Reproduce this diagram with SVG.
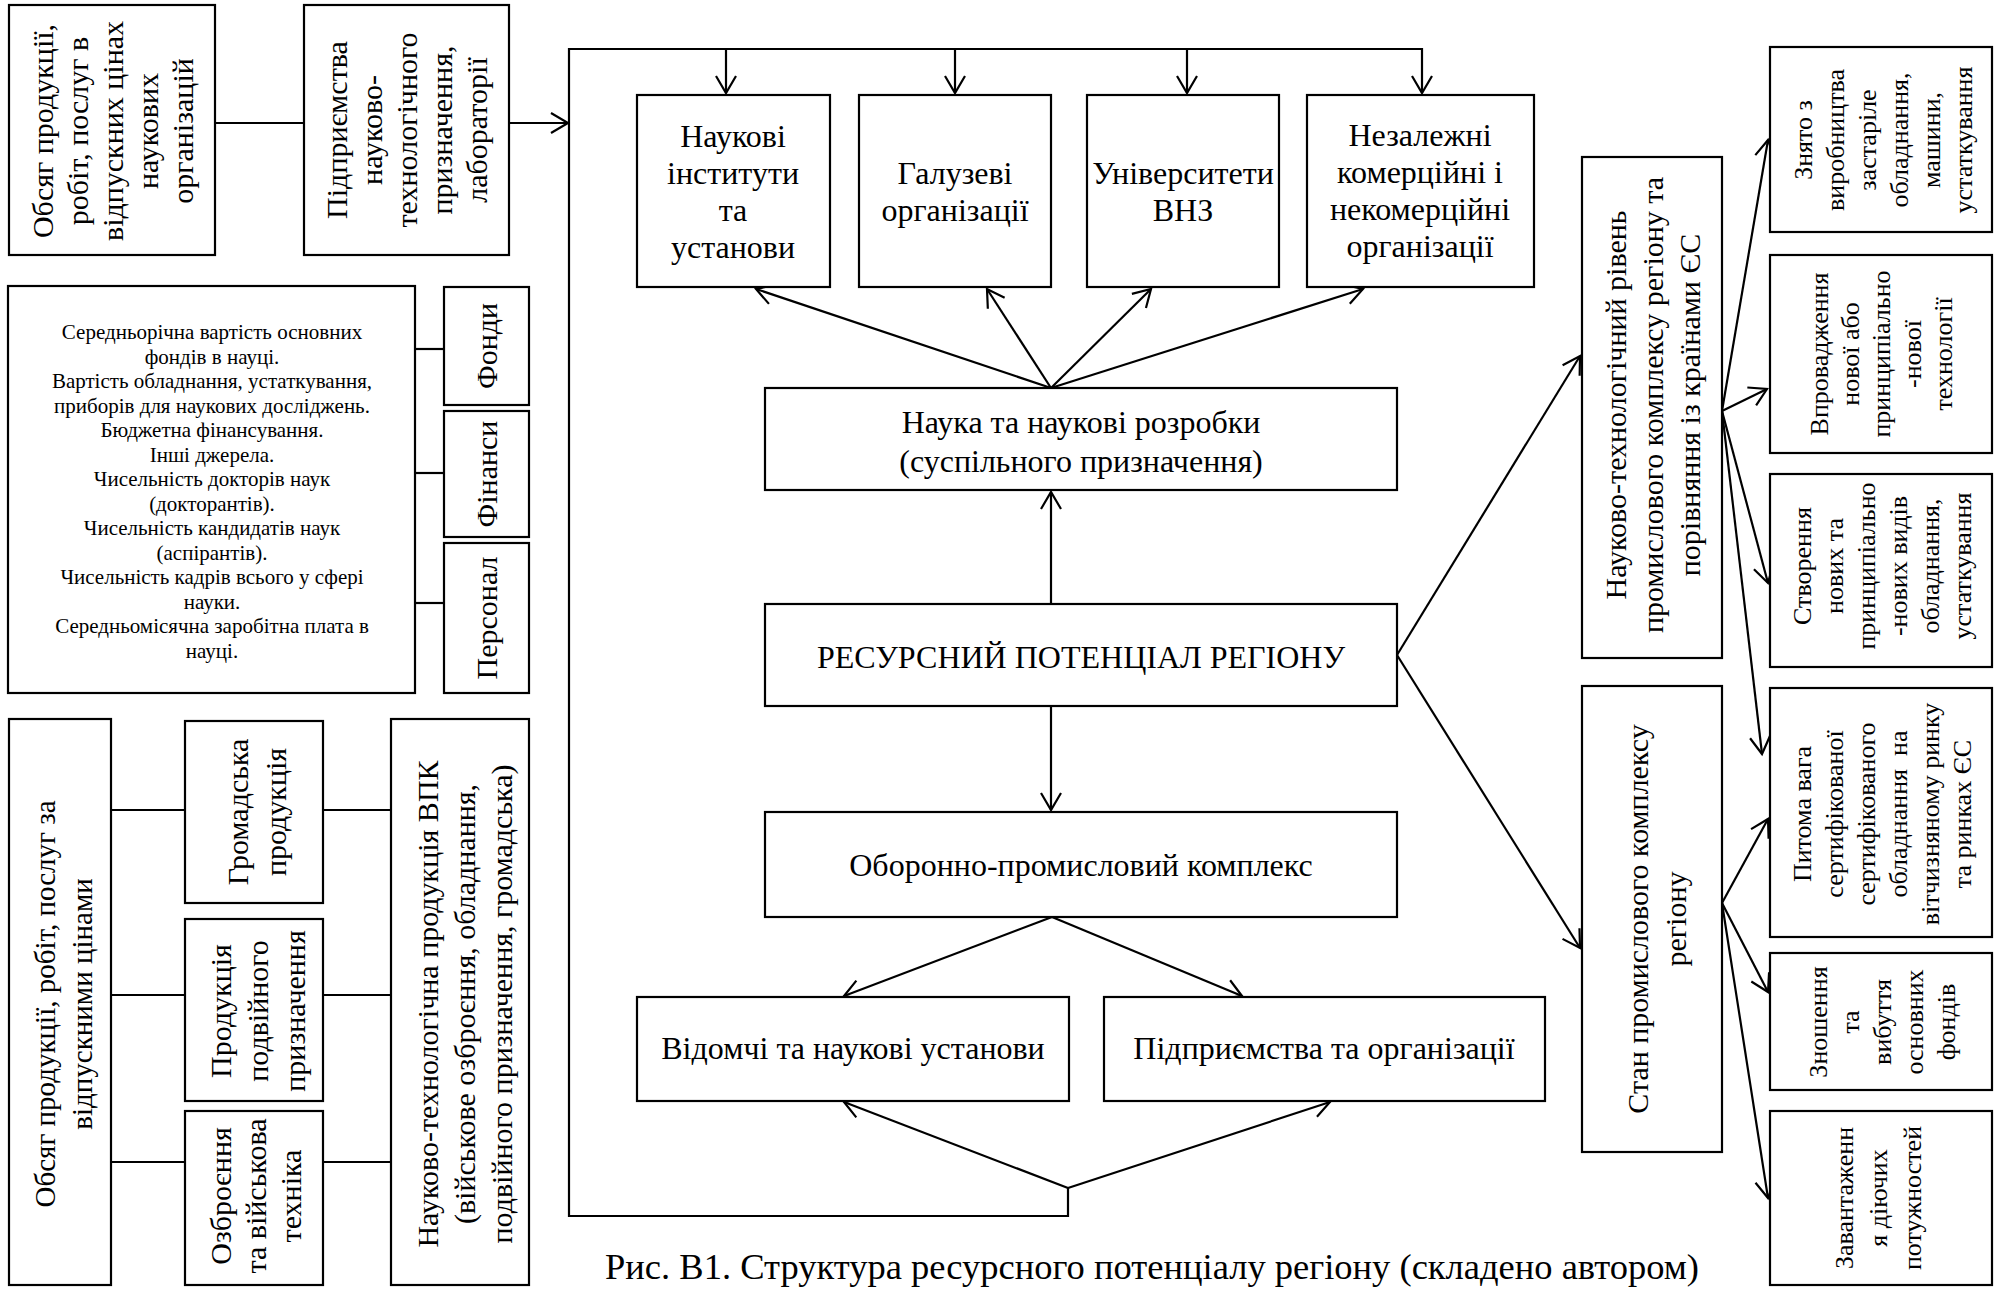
<svg xmlns="http://www.w3.org/2000/svg" width="1999" height="1289" viewBox="0 0 1999 1289">
<style>
.b{fill:#fff;stroke:#000;stroke-width:2.2}
.c{fill:none;stroke:#000;stroke-width:2.2}
.a{fill:none;stroke:#000;stroke-width:2.2;marker-end:url(#ar)}
text{font-family:"Liberation Serif","Times New Roman",serif;fill:#000;text-anchor:middle}
.f32{font-size:32px}.f30{font-size:30px}.f29{font-size:29px}.f26{font-size:26px}.f21{font-size:21px}
</style>
<defs>
<marker id="ar" markerUnits="userSpaceOnUse" viewBox="0 0 20 22" markerWidth="20" markerHeight="22" refX="18" refY="11" orient="auto" overflow="visible">
<path d="M1,1 L18,11 L1,21" fill="none" stroke="#000" stroke-width="2.2"/>
</marker>
</defs>
<rect width="1999" height="1289" fill="#fff"/>
<g id="connectors">
<line class="c" x1="215" y1="123" x2="304" y2="123"/>
<line class="a" x1="509" y1="123" x2="568" y2="123"/>
<path class="a" d="M1068,1188 L1068,1216 L569,1216 L569,49 L1422,49 L1422,93"/>
<line class="a" x1="726" y1="49" x2="726" y2="93"/>
<line class="a" x1="955" y1="49" x2="955" y2="93"/>
<line class="a" x1="1187" y1="49" x2="1187" y2="93"/>
<line class="a" x1="1051" y1="388" x2="756" y2="289"/>
<line class="a" x1="1051" y1="388" x2="987" y2="289"/>
<line class="a" x1="1051" y1="388" x2="1151" y2="289"/>
<line class="a" x1="1051" y1="388" x2="1363" y2="289"/>
<line class="a" x1="1051" y1="604" x2="1051" y2="492"/>
<line class="a" x1="1051" y1="706" x2="1051" y2="810"/>
<line class="a" x1="1052" y1="917" x2="844" y2="996"/>
<line class="a" x1="1052" y1="917" x2="1242" y2="996"/>
<line class="a" x1="1068" y1="1188" x2="844" y2="1102"/>
<line class="a" x1="1068" y1="1188" x2="1330" y2="1102"/>
<line class="a" x1="1397" y1="655" x2="1580" y2="356"/>
<line class="a" x1="1397" y1="655" x2="1580" y2="948"/>
<line class="a" x1="1722" y1="411" x2="1768" y2="140"/>
<line class="a" x1="1722" y1="411" x2="1767" y2="389"/>
<line class="a" x1="1722" y1="411" x2="1768" y2="583"/>
<line class="a" x1="1722" y1="411" x2="1762" y2="754"/>
<line class="a" x1="1722" y1="903" x2="1768" y2="819"/>
<line class="a" x1="1722" y1="903" x2="1768" y2="992"/>
<line class="a" x1="1722" y1="903" x2="1768" y2="1198"/>
<line class="c" x1="415" y1="349" x2="444" y2="349"/>
<line class="c" x1="415" y1="473" x2="444" y2="473"/>
<line class="c" x1="415" y1="603" x2="444" y2="603"/>
<line class="c" x1="111" y1="810" x2="185" y2="810"/>
<line class="c" x1="111" y1="995" x2="185" y2="995"/>
<line class="c" x1="111" y1="1162" x2="185" y2="1162"/>
<line class="c" x1="323" y1="810" x2="391" y2="810"/>
<line class="c" x1="323" y1="995" x2="391" y2="995"/>
<line class="c" x1="323" y1="1162" x2="391" y2="1162"/>
</g>
<g id="n-obsyag-nauk">
<rect class="b" x="9" y="5" width="206" height="250"/>
<text class="f30" transform="translate(112,131) rotate(-90)"><tspan x="0" dy="-59.5">Обсяг продукції,</tspan><tspan x="0" dy="35">робіт, послуг в</tspan><tspan x="0" dy="35">відпускних цінах</tspan><tspan x="0" dy="35">наукових</tspan><tspan x="0" dy="35">організацій</tspan></text>
</g>
<g id="n-pidpryiemstva-lab">
<rect class="b" x="304" y="5" width="205" height="250"/>
<text class="f30" transform="translate(406,130) rotate(-90)"><tspan x="0" dy="-59.5">Підприємства</tspan><tspan x="0" dy="35">науково-</tspan><tspan x="0" dy="35">технологічного</tspan><tspan x="0" dy="35">призначення,</tspan><tspan x="0" dy="35">лабораторії</tspan></text>
</g>
<g id="n-pokaznyky">
<rect class="b" x="8" y="286" width="407" height="407"/>
<text class="f21"><tspan x="212" y="339">Середньорічна вартість основних</tspan><tspan x="212" dy="24.5">фондів в науці.</tspan><tspan x="212" dy="24.5">Вартість обладнання, устаткування,</tspan><tspan x="212" dy="24.5">приборів для наукових досліджень.</tspan><tspan x="212" dy="24.5">Бюджетна фінансування.</tspan><tspan x="212" dy="24.5">Інші джерела.</tspan><tspan x="212" dy="24.5">Чисельність докторів наук</tspan><tspan x="212" dy="24.5">(докторантів).</tspan><tspan x="212" dy="24.5">Чисельність кандидатів наук</tspan><tspan x="212" dy="24.5">(аспірантів).</tspan><tspan x="212" dy="24.5">Чисельність кадрів всього у сфері</tspan><tspan x="212" dy="24.5">науки.</tspan><tspan x="212" dy="24.5">Середньомісячна заробітна плата в</tspan><tspan x="212" dy="24.5">науці.</tspan></text>
</g>
<g id="n-fondy">
<rect class="b" x="444" y="287" width="85" height="118"/>
<text class="f30" transform="translate(486,346) rotate(-90)" dy="10.5">Фонди</text>
</g>
<g id="n-finansy">
<rect class="b" x="444" y="411" width="85" height="126"/>
<text class="f30" transform="translate(486,474) rotate(-90)" dy="10.5">Фінанси</text>
</g>
<g id="n-personal">
<rect class="b" x="444" y="543" width="85" height="150"/>
<text class="f30" transform="translate(486,618) rotate(-90)" dy="10.5">Персонал</text>
</g>
<g id="n-obsyag-vidpusk">
<rect class="b" x="9" y="719" width="102" height="566"/>
<text class="f29" transform="translate(63,1004) rotate(-90)"><tspan x="0" dy="-8.35">Обсяг продукції, робіт, послуг за</tspan><tspan x="0" dy="37">відпускними цінами</tspan></text>
</g>
<g id="n-hromadska">
<rect class="b" x="185" y="721" width="138" height="182"/>
<text class="f30" transform="translate(256,812) rotate(-90)"><tspan x="0" dy="-8.5">Громадська</tspan><tspan x="0" dy="38">продукція</tspan></text>
</g>
<g id="n-podviynoho">
<rect class="b" x="185" y="919" width="138" height="182"/>
<text class="f30" transform="translate(257,1011) rotate(-90)"><tspan x="0" dy="-26.5">Продукція</tspan><tspan x="0" dy="37">подвійного</tspan><tspan x="0" dy="37">призначення</tspan></text>
</g>
<g id="n-ozbroiennia">
<rect class="b" x="185" y="1111" width="138" height="174"/>
<text class="f30" transform="translate(255,1196) rotate(-90)"><tspan x="0" dy="-24.5">Озброєння</tspan><tspan x="0" dy="35">та військова</tspan><tspan x="0" dy="35">техніка</tspan></text>
</g>
<g id="n-vpk">
<rect class="b" x="391" y="719" width="138" height="566"/>
<text class="f30" transform="translate(464,1004) rotate(-90)"><tspan x="0" dy="-26.5">Науково-технологічна продукція ВПК</tspan><tspan x="0" dy="37">(військове озброєння, обладнання,</tspan><tspan x="0" dy="37">подвійного призначення, громадська)</tspan></text>
</g>
<g id="n-instytuty">
<rect class="b" x="637" y="95" width="193" height="192"/>
<text class="f32"><tspan x="733" y="147">Наукові</tspan><tspan x="733" dy="37">інститути</tspan><tspan x="733" dy="37">та</tspan><tspan x="733" dy="37">установи</tspan></text>
</g>
<g id="n-haluzevi">
<rect class="b" x="859" y="95" width="192" height="192"/>
<text class="f32"><tspan x="955" y="184">Галузеві</tspan><tspan x="955" dy="37">організації</tspan></text>
</g>
<g id="n-universytety">
<rect class="b" x="1087" y="95" width="192" height="192"/>
<text class="f32"><tspan x="1183" y="184">Університети</tspan><tspan x="1183" dy="37">ВНЗ</tspan></text>
</g>
<g id="n-nezalezhni">
<rect class="b" x="1307" y="95" width="227" height="192"/>
<text class="f32"><tspan x="1420" y="146">Незалежні</tspan><tspan x="1420" dy="37">комерційні і</tspan><tspan x="1420" dy="37">некомерційні</tspan><tspan x="1420" dy="37">організації</tspan></text>
</g>
<g id="n-nauka">
<rect class="b" x="765" y="388" width="632" height="102"/>
<text class="f32"><tspan x="1081" y="433">Наука та наукові розробки</tspan><tspan x="1081" dy="39">(суспільного призначення)</tspan></text>
</g>
<g id="n-resursnyi">
<rect class="b" x="765" y="604" width="632" height="102"/>
<text class="f32" x="1081" y="668">РЕСУРСНИЙ ПОТЕНЦІАЛ РЕГІОНУ</text>
</g>
<g id="n-oboronno">
<rect class="b" x="765" y="812" width="632" height="105"/>
<text class="f32" x="1081" y="876">Оборонно-промисловий комплекс</text>
</g>
<g id="n-vidomchi">
<rect class="b" x="637" y="997" width="432" height="104"/>
<text class="f32" x="853" y="1059">Відомчі та наукові установи</text>
</g>
<g id="n-pidpryiemstva-org">
<rect class="b" x="1104" y="997" width="441" height="104"/>
<text class="f32" x="1324" y="1059">Підприємства та організації</text>
</g>
<g id="n-riven">
<rect class="b" x="1582" y="157" width="140" height="501"/>
<text class="f30" transform="translate(1652,405) rotate(-90)"><tspan x="0" dy="-26.5">Науково-технологічний рівень</tspan><tspan x="0" dy="37">промислового комплексу регіону та</tspan><tspan x="0" dy="37">порівняння із країнами ЄС</tspan></text>
</g>
<g id="n-stan">
<rect class="b" x="1582" y="686" width="140" height="466"/>
<text class="f30" transform="translate(1656,919) rotate(-90)"><tspan x="0" dy="-8.5">Стан промислового комплексу</tspan><tspan x="0" dy="38">регіону</tspan></text>
</g>
<g id="n-zniato">
<rect class="b" x="1770" y="47" width="222" height="185"/>
<text class="f26" transform="translate(1883,140) rotate(-90)"><tspan x="0" dy="-70.9">Знято з</tspan><tspan x="0" dy="32">виробництва</tspan><tspan x="0" dy="32">застаріле</tspan><tspan x="0" dy="32">обладнання,</tspan><tspan x="0" dy="32">машини,</tspan><tspan x="0" dy="32">устаткування</tspan></text>
</g>
<g id="n-vprovadzhennia">
<rect class="b" x="1770" y="255" width="222" height="198"/>
<text class="f26" transform="translate(1881,354) rotate(-90)"><tspan x="0" dy="-52.9">Впровадження</tspan><tspan x="0" dy="31">нової або</tspan><tspan x="0" dy="31">принципіально</tspan><tspan x="0" dy="31">-нової</tspan><tspan x="0" dy="31">технології</tspan></text>
</g>
<g id="n-stvorennia">
<rect class="b" x="1770" y="474" width="222" height="193"/>
<text class="f26" transform="translate(1882,566) rotate(-90)"><tspan x="0" dy="-70.9">Створення</tspan><tspan x="0" dy="32">нових та</tspan><tspan x="0" dy="32">принципіально</tspan><tspan x="0" dy="32">-нових видів</tspan><tspan x="0" dy="32">обладнання,</tspan><tspan x="0" dy="32">устаткування</tspan></text>
</g>
<g id="n-pytoma">
<rect class="b" x="1770" y="688" width="222" height="249"/>
<text class="f26" transform="translate(1882,814) rotate(-90)" xml:space="preserve"><tspan x="0" dy="-70.9">Питома вага</tspan><tspan x="0" dy="32">сертифікованої</tspan><tspan x="0" dy="32">сертифікованого</tspan><tspan x="0" dy="32">обладнання  на</tspan><tspan x="0" dy="32">вітчизняному ринку</tspan><tspan x="0" dy="32">та ринках ЄС</tspan></text>
</g>
<g id="n-znoshennia">
<rect class="b" x="1770" y="953" width="222" height="137"/>
<text class="f26" transform="translate(1882,1022) rotate(-90)"><tspan x="0" dy="-54.9">Зношення</tspan><tspan x="0" dy="32">та</tspan><tspan x="0" dy="32">вибуття</tspan><tspan x="0" dy="32">основних</tspan><tspan x="0" dy="32">фондів</tspan></text>
</g>
<g id="n-zavantazhennia">
<rect class="b" x="1770" y="1111" width="222" height="174"/>
<text class="f26" transform="translate(1878,1198) rotate(-90)"><tspan x="0" dy="-24.9">Завантаженн</tspan><tspan x="0" dy="34">я діючих</tspan><tspan x="0" dy="34">потужностей</tspan></text>
</g>
<g id="caption">
<text style="font-size:36.5px" x="1152" y="1279">Рис. В1. Структура ресурсного потенціалу регіону (складено автором)</text>
</g>
</svg>
